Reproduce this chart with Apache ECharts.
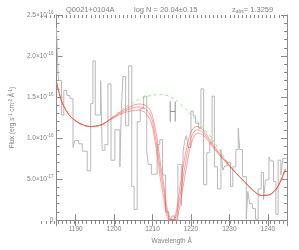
<!DOCTYPE html>
<html>
<head>
<meta charset="utf-8">
<script src="https://cdn.jsdelivr.net/npm/echarts@6/dist/echarts.min.js"></script>
<style>
html,body{margin:0;padding:0;background:#fff;}
#c{width:299px;height:250px;}
</style>
</head>
<body>
<div id="c"></div>
<script>
// Flux values are in units of 1e-16 erg s^-1 cm^-2 A^-1
// Observed spectrum (histogram): bin left edges (A) and flux
const histWl = [1185.0,1185.5,1186.3,1186.9,1187.7,1188.5,1189.3,1189.8,1190.8,1191.7,1193.0,1193.9,1194.5,1195.1,1196.5,1196.9,1197.6,1198.4,1199.2,1200.2,1201.5,1201.9,1202.3,1203.0,1203.8,1204.6,1205.2,1206.0,1206.8,1207.7,1208.5,1208.9,1209.7,1211.2,1211.9,1212.6,1213.4,1214.2,1215.0,1215.8,1216.6,1217.5,1218.0,1218.4,1218.8,1219.3,1220.0,1220.6,1221.2,1222.0,1222.6,1223.3,1224.1,1224.9,1225.5,1226.1,1226.9,1227.8,1228.3,1228.8,1229.4,1230.3,1230.9,1231.7,1232.3,1232.7,1233.4,1234.4,1234.8,1235.3,1236.0,1236.8,1237.5,1238.3,1238.9,1239.4,1240.3,1240.7,1241.5,1242.1,1242.7,1243.4,1243.9];
const histFlux = [2.34,1.70,1.28,1.58,1.52,1.48,0.885,0.97,0.93,0.84,0.60,1.42,1.94,1.28,1.70,0.85,0.92,1.66,0.73,1.10,0.65,1.36,1.75,1.15,1.88,0.41,0.13,1.20,1.36,1.51,0.83,0.68,0.56,0.92,0.98,0.55,0.10,0.0,0.05,0.0,0.68,0.17,0.85,0.97,1.03,0.885,1.33,1.27,1.18,1.12,1.60,0.43,0.82,0.94,1.51,0.65,0.38,0.86,0.61,0.66,0.70,0.41,0.65,0.86,1.12,0.86,0.53,0.01,0.35,0.20,0.14,0.01,0.38,0.58,0.25,0.49,0.77,0.72,0.47,0.07,0.73,0.55,0.75];
const histEnd = 1245.0;

// Model wavelengths and curves
const modelWl = [1185.0,1186.5,1188.5,1191.0,1193.7,1196.6,1199.1,1202.7,1206.4,1208.1,1209.6,1210.5,1211.3,1212.1,1213.0,1213.7,1214.5,1215.2,1215.9,1216.6,1217.4,1218.3,1219.1,1219.9,1220.8,1221.8,1223.3,1225.8,1228.2,1230.2,1232.0,1234.1,1236.0,1238.3,1240.5,1242.5,1244.6];
const continuum = [1.68,1.43,1.27,1.18,1.14,1.16,1.24,1.37,1.47,1.50,1.52,1.525,1.53,1.53,1.53,1.52,1.51,1.49,1.47,1.44,1.41,1.37,1.33,1.29,1.25,1.20,1.12,0.97,0.80,0.66,0.56,0.46,0.37,0.30,0.31,0.40,0.62];
const fitLowN = [1.68,1.43,1.27,1.18,1.14,1.16,1.235,1.35,1.415,1.40,1.32,1.16,0.965,0.685,0.41,0.17,0.03,0.0,0.05,0.22,0.48,0.74,0.93,1.06,1.13,1.14,1.09,0.92,0.77,0.66,0.56,0.46,0.37,0.30,0.31,0.40,0.62];
const fitBest = [1.68,1.43,1.27,1.18,1.14,1.16,1.23,1.33,1.38,1.36,1.26,1.085,0.865,0.59,0.33,0.11,0.01,0.0,0.02,0.14,0.36,0.62,0.83,0.98,1.08,1.10,1.06,0.90,0.76,0.655,0.56,0.46,0.37,0.30,0.31,0.40,0.62];
const fitHighN = [1.68,1.43,1.27,1.18,1.14,1.16,1.225,1.31,1.34,1.31,1.20,1.005,0.765,0.487,0.25,0.05,0.0,0.0,0.0,0.06,0.26,0.50,0.72,0.90,1.02,1.06,1.03,0.88,0.75,0.65,0.56,0.46,0.37,0.30,0.31,0.40,0.62];

// "H" marker
const hMarkWl = [1214.6, 1215.9];
const hMarkFlux = [1.20, 1.324, 1.447];

// Tick labels
const yTickMant = ['0','5.0','1.0','1.5','2.0','2.5'];
const yTickExp  = ['','-17','-16','-16','-16','-16'];

const titleParts = ['Q0021+0104A','log N = 20.04\u00b10.15','z{s|abs}= 1.3259'];

const txt = '#808080';
const axc = '#8a8a8a';
const font = 'Liberation Sans';

const histData = histWl.map((w,i)=>[w,histFlux[i]]);
histData.push([histEnd, histFlux[histFlux.length-1]]);
const mk = arr => modelWl.map((w,i)=>[w,arr[i]]);

const gridBox = {left:41.7, right:12, top:15, bottom:26};

const majorX = (pos, labels) => ({
  type:'value', gridIndex:0, position:pos, min:1185, max:1245, splitNumber:6,
  axisLine:{show:true, lineStyle:{color:axc, width:1}},
  axisTick:{show:true, inside:true, length:6, lineStyle:{color:axc}},
  minorTick:{show:false},
  splitLine:{show:false},
  axisLabel:{show:labels, fontSize:6.5, color:txt, fontFamily:font, margin:6, showMinLabel:false, showMaxLabel:false,
    formatter: v => String(Math.round(v))},
  name: labels ? 'Wavelength \u00c5' : '',
  nameLocation:'middle', nameGap:16,
  nameTextStyle:{fontSize:6.5, color:txt, fontFamily:font}
});
const minorX = pos => ({
  type:'value', gridIndex:1, position:pos, min:1185, max:1245, interval:1,
  axisLine:{show:false},
  axisTick:{show:true, inside:true, length:3, lineStyle:{color:axc}},
  axisLabel:{show:false}, splitLine:{show:false}
});
const yAx = (pos, labels) => ({
  type:'value', gridIndex:0, position:pos, min:0, max:2.5, interval:0.5,
  axisLine:{show:true, lineStyle:{color:axc}},
  axisTick:{show:true, inside:true, length:6, lineStyle:{color:axc}},
  minorTick:{show:true, splitNumber:5, length:3, lineStyle:{color:axc}},
  splitLine:{show:false},
  axisLabel:{show:labels, margin:3, color:txt, fontFamily:font,
    formatter: v => { const i = Math.round(v/0.5); return yTickExp[i] ? '{m|'+yTickMant[i]+'\u00d710}{e|'+yTickExp[i]+'}' : '{m|'+yTickMant[i]+'}'; },
    rich:{ m:{fontSize:6.5, color:txt, fontFamily:font}, e:{fontSize:4.5, color:txt, fontFamily:font, verticalAlign:'top', padding:[0,0,4,0]} }
  },
  name: labels ? 'Flux (erg s{e|-1} cm{e|-2} \u00c5{e|-1})' : '',
  nameLocation:'middle', nameGap:31, nameRotate:90,
  nameTextStyle:{fontSize:6.5, color:txt, fontFamily:font,
    rich:{ e:{fontSize:4.5, color:txt, fontFamily:font, verticalAlign:'top', padding:[0,0,4,0]} } }
});

const lineBase = {type:'line', xAxisIndex:0, yAxisIndex:0, symbol:'none', animation:false, silent:true};

const option = {
  backgroundColor:'#fff',
  animation:false,
  title: [
    {text:titleParts[0], left:61, top:1, textStyle:{fontSize:7.5, fontWeight:'normal', color:txt, fontFamily:font}},
    {text:titleParts[1], left:129, top:1, textStyle:{fontSize:7.5, fontWeight:'normal', color:txt, fontFamily:font}},
    {text:titleParts[2], left:227, top:1, textStyle:{fontSize:7.5, fontWeight:'normal', color:txt, fontFamily:font,
      rich:{s:{fontSize:5, color:txt, fontFamily:font, verticalAlign:'bottom', padding:[3,0,0,0]}}}}
  ],
  grid:[gridBox, Object.assign({}, gridBox)],
  xAxis:[majorX('bottom', true), majorX('top', false), minorX('bottom'), minorX('top')],
  yAxis:[yAx('left', true), yAx('right', false),
    {type:'value', gridIndex:1, min:0, max:2.5, show:false}],
  series:[
    Object.assign({}, lineBase, {name:'spectrum', data:histData, step:'end', lineStyle:{color:'#b8b8b8', width:1}}),
    Object.assign({}, lineBase, {name:'continuum', data:mk(continuum), smooth:0.3, lineStyle:{color:'#86f086', width:1, type:[3,3]}}),
    Object.assign({}, lineBase, {name:'fitLow', data:mk(fitLowN), smooth:0.3, lineStyle:{color:'rgba(255,70,60,0.5)', width:1}}),
    Object.assign({}, lineBase, {name:'fitBest', data:mk(fitBest), smooth:0.3, lineStyle:{color:'rgba(255,70,60,0.5)', width:1}}),
    Object.assign({}, lineBase, {name:'fitHigh', data:mk(fitHighN), smooth:0.3, lineStyle:{color:'rgba(255,70,60,0.5)', width:1}}),
    Object.assign({}, lineBase, {name:'hL', data:[[hMarkWl[0],hMarkFlux[0]],[hMarkWl[0],hMarkFlux[2]]], lineStyle:{color:'#909090', width:1}}),
    Object.assign({}, lineBase, {name:'hR', data:[[hMarkWl[1],hMarkFlux[0]],[hMarkWl[1],hMarkFlux[2]]], lineStyle:{color:'#909090', width:1}}),
    Object.assign({}, lineBase, {name:'hC', data:[[hMarkWl[0],hMarkFlux[1]],[hMarkWl[1],hMarkFlux[1]]], lineStyle:{color:'#909090', width:1}})
  ]
};
const chart = echarts.init(document.getElementById('c'), null, {renderer:'canvas'});
chart.setOption(option);
</script>
</body>
</html>
